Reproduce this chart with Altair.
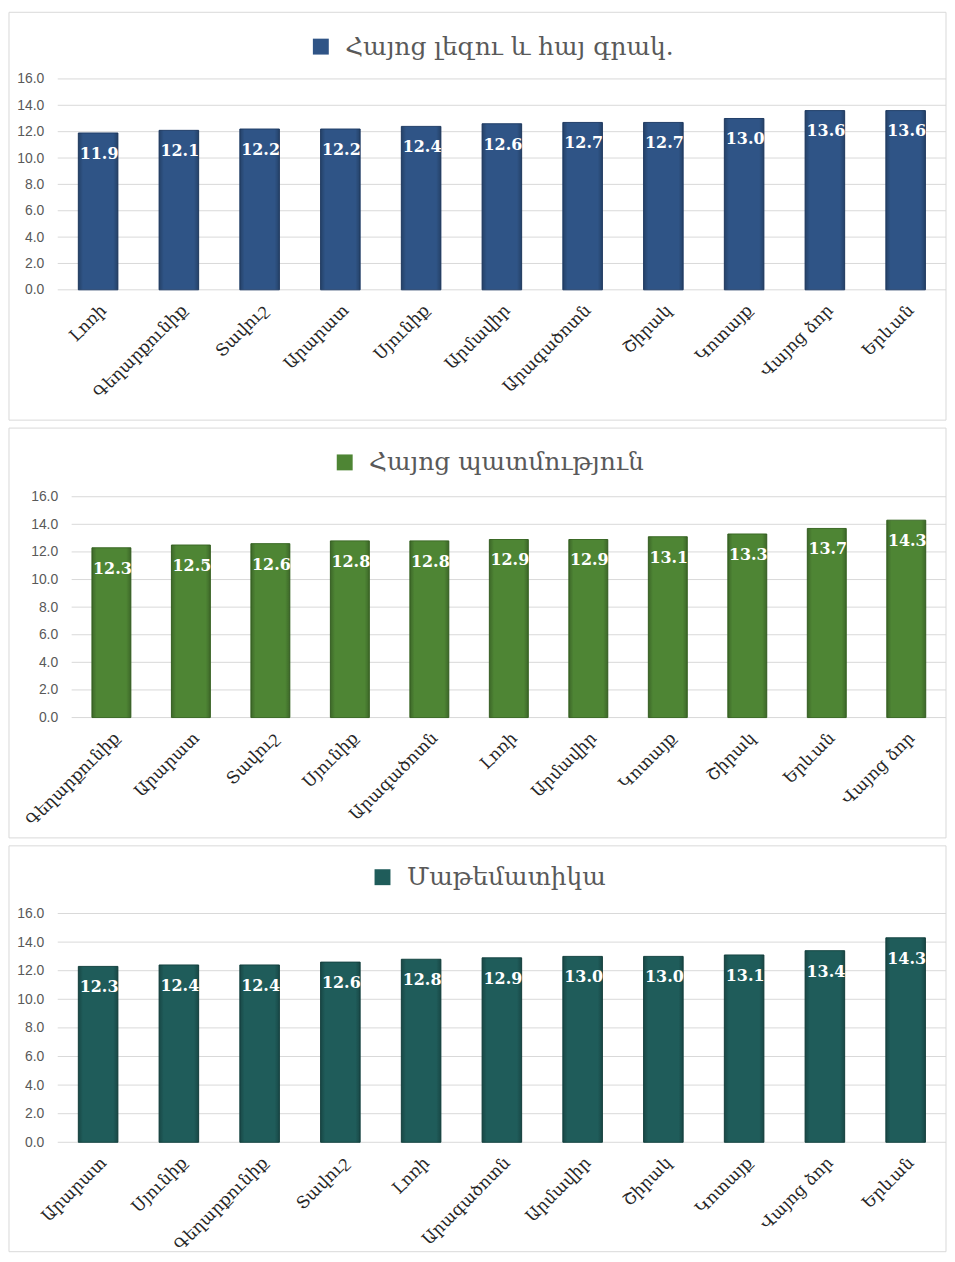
import altair as alt
import pandas as pd

# Panel 1: Armenian language and literature
regions1 = ["Լոռի", "Գեղարքունիք", "Տավուշ", "Արարատ", "Սյունիք", "Արմավիր",
            "Արագածոտն", "Շիրակ", "Կոտայք", "Վայոց ձոր", "Երևան"]
values1 = [11.9, 12.1, 12.2, 12.2, 12.4, 12.6, 12.7, 12.7, 13.0, 13.6, 13.6]
title1 = "Հայոց լեզու և հայ գրակ."

# Panel 2: Armenian history
regions2 = ["Գեղարքունիք", "Արարատ", "Տավուշ", "Սյունիք", "Արագածոտն", "Լոռի",
            "Արմավիր", "Կոտայք", "Շիրակ", "Երևան", "Վայոց ձոր"]
values2 = [12.3, 12.5, 12.6, 12.8, 12.8, 12.9, 12.9, 13.1, 13.3, 13.7, 14.3]
title2 = "Հայոց պատմություն"

# Panel 3: Mathematics
regions3 = ["Արարատ", "Սյունիք", "Գեղարքունիք", "Տավուշ", "Լոռի", "Արագածոտն",
            "Արմավիր", "Շիրակ", "Կոտայք", "Վայոց ձոր", "Երևան"]
values3 = [12.3, 12.4, 12.4, 12.6, 12.8, 12.9, 13.0, 13.0, 13.1, 13.4, 14.3]
title3 = "Մաթեմատիկա"

y_ticks = [0, 2, 4, 6, 8, 10, 12, 14, 16]

WIDTH = 893

shade = alt.Gradient(
    gradient="linear", x1=0, x2=1, y1=0, y2=0,
    stops=[
        alt.GradientStop(offset=0, color="rgba(0,0,0,0.22)"),
        alt.GradientStop(offset=0.12, color="rgba(0,0,0,0)"),
        alt.GradientStop(offset=0.88, color="rgba(0,0,0,0)"),
        alt.GradientStop(offset=1, color="rgba(0,0,0,0.22)"),
    ],
)


def panel(cats, vals, name, color, stroke, height, rng, shift,
          legend_x, legend_y, by1, by2):
    df = pd.DataFrame({"region": cats, "value": vals, "series": [name] * len(cats)})
    base = alt.Chart(df)
    yscale = alt.Scale(domain=[0, 16], nice=False)
    yaxis = alt.Axis(values=y_ticks, format=".1f", grid=False,
                     domain=False, ticks=False, labelFont="Liberation Sans",
                     labelFontSize=14, labelColor="#595959", labelPadding=14,
                     offset=-shift)
    x = alt.X(
        "region:N", sort=cats, title=None,
        scale=alt.Scale(range=rng, paddingInner=0.51, paddingOuter=0.255),
        axis=alt.Axis(labelAngle=-45, labelFont="DejaVu Serif", labelFontSize=17,
                      labelColor="#262626", domain=False, ticks=False,
                      labelPadding=12, labelLimit=300),
    )
    y = alt.Y("value:Q", title=None, scale=yscale, axis=yaxis)
    grid = alt.Chart(pd.DataFrame({"t": y_ticks})).mark_rule(
        color="#D9D9D9", strokeWidth=1
    ).encode(y=alt.Y("t:Q", title=None, scale=yscale, axis=yaxis),
             x=alt.value(shift), x2=alt.value(WIDTH))
    bars = base.mark_bar(stroke=stroke, strokeWidth=1).encode(
        x=x, y=y,
        color=alt.Color(
            "series:N",
            scale=alt.Scale(domain=[name], range=[color]),
            legend=alt.Legend(orient="none", legendX=legend_x, legendY=legend_y,
                              title=None, symbolType="square", symbolSize=256,
                              symbolStrokeWidth=0, labelFont="DejaVu Serif",
                              labelFontSize=25, labelColor="#595959",
                              labelOffset=12, labelLimit=600, direction="horizontal"),
        ),
    )
    gloss = base.mark_bar(fill=shade, strokeWidth=0).encode(x=x, y=y)
    text = base.mark_text(font="DejaVu Serif", fontWeight="bold", fontSize=16,
                          color="white", baseline="middle", dy=21, dx=1).encode(
        x=x, y=y, text=alt.Text("value:Q", format=".1f")
    )
    border = alt.Chart(pd.DataFrame({"k": [0]})).mark_rect(
        fillOpacity=0, stroke="#D9D9D9", strokeWidth=1
    ).encode(x=alt.value(-49), x2=alt.value(WIDTH), y=alt.value(by1), y2=alt.value(by2))
    return alt.layer(border, grid, bars, gloss, text).properties(width=WIDTH, height=height)


p1 = panel(regions1, values1, title1, "#2F5486", "#22406A", 212, [0, WIDTH], 0,
           252, -45, -67, 343)
p2 = panel(regions2, values2, title2, "#4E8534", "#3B6A26", 222, [14, WIDTH], 14,
           276, -47, -69, 343)
p3 = panel(regions3, values3, title3, "#1F5C5A", "#164644", 230, [0, WIDTH], 0,
           314, -49, -68, 340)

chart = alt.vconcat(p1, p2, p3, spacing=6).resolve_scale(
    color="independent", x="independent", y="independent"
).resolve_legend(color="independent").properties(
    padding=0,
).configure_view(stroke=None)

chart.save("out.html", embed_options={"renderer": "svg", "actions": False})
